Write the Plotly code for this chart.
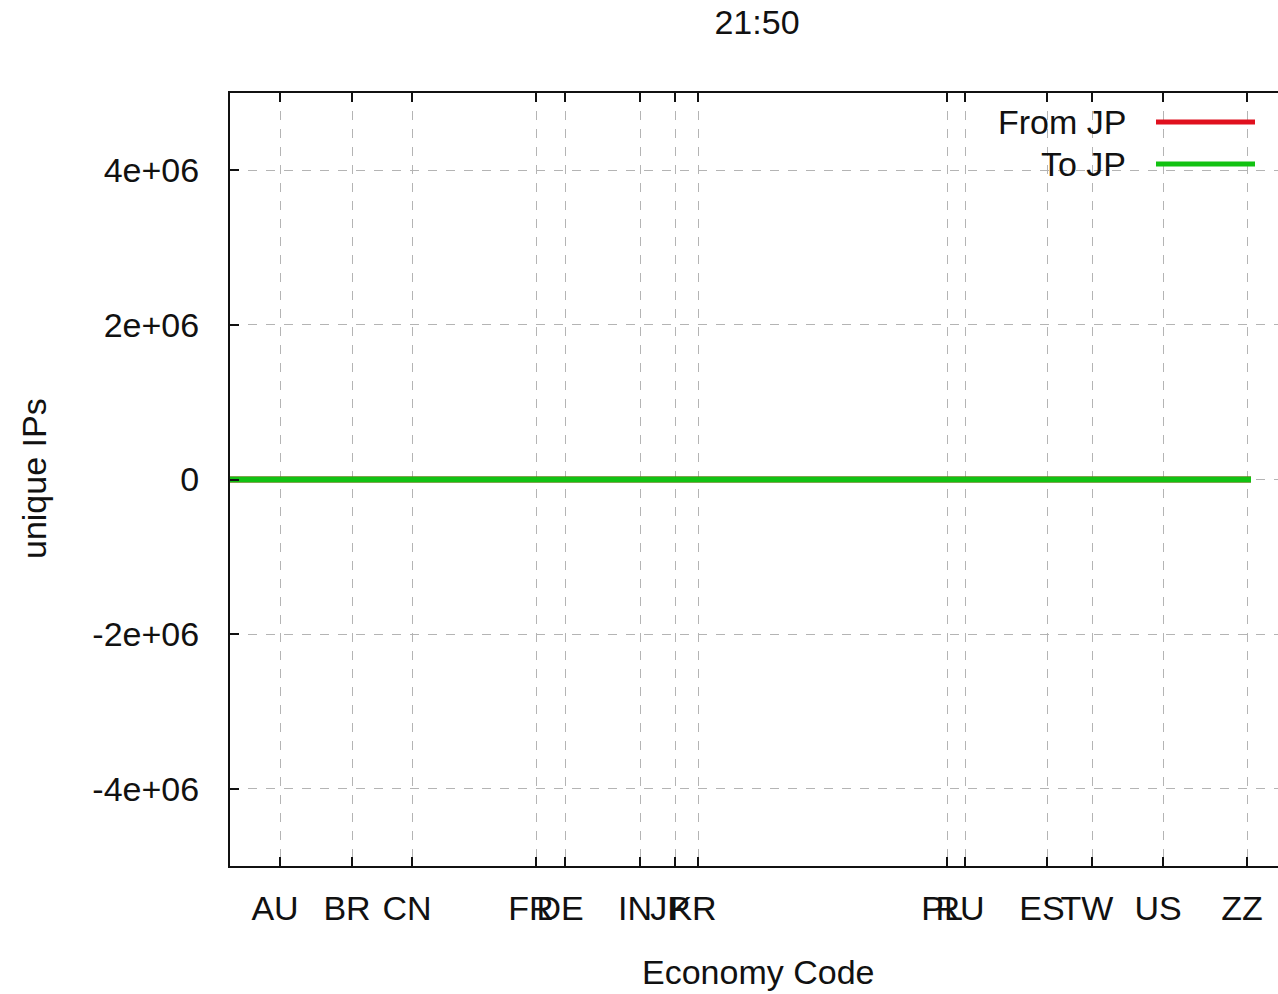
import plotly.graph_objects as go

# Data
economies = ["AU", "BR", "CN", "FR", "DE", "IN", "JP", "KR", "PL", "RU", "ES", "TW", "US", "ZZ"]
econ_pos = [50, 122, 182, 306, 335, 410, 445, 468, 717, 735, 817, 862, 933, 1017]
line_x = [0] + econ_pos + [1021]
from_jp = [0] * len(line_x)
to_jp = [0] * len(line_x)
y_ticks = [-4e6, -2e6, 0, 2e6, 4e6]
y_tick_labels = ["-4e+06", "-2e+06", "0", "2e+06", "4e+06"]

RED = "#e0101e"
GREEN = "#12c212"
FONT = "Liberation Sans, Arial, sans-serif"
FS = 34

fig = go.Figure()
fig.add_trace(go.Scatter(x=line_x, y=from_jp, mode="lines", name="From JP",
                         line=dict(color=RED, width=6), showlegend=False))
fig.add_trace(go.Scatter(x=line_x, y=to_jp, mode="lines", name="To JP",
                         line=dict(color=GREEN, width=6), showlegend=False))

W, H = 1278, 994
L, R, T, B = 230, 0, 93, 128

fig.update_layout(
    width=W, height=H,
    margin=dict(l=L, r=R, t=T, b=B, pad=0),
    paper_bgcolor="white", plot_bgcolor="white",
    font=dict(family=FONT, size=FS, color="#111111"),
    showlegend=False,
    title=dict(text="21:50", x=757 / W, xanchor="center", y=1 - 22 / H, yanchor="middle",
               yref="container", font=dict(size=FS, color="#111111")),
)

fig.update_xaxes(
    range=[0, W - L], tickmode="array", tickvals=econ_pos, ticktext=economies,
    ticks="inside", ticklen=9, tickwidth=2, tickcolor="#111111",
    showline=True, linecolor="#111111", linewidth=2, mirror="allticks",
    showgrid=True, gridcolor="#b4b4b4", gridwidth=1, griddash="dash",
    zeroline=False, ticklabelstandoff=11, ticklabelshift=-5, tickangle=0,
    ticklabeloverflow="allow",
)
fig.update_yaxes(
    range=[-5e6, 5e6], tickmode="array", tickvals=y_ticks, ticktext=y_tick_labels,
    ticks="inside", ticklen=9, tickwidth=2, tickcolor="#111111",
    showline=True, linecolor="#111111", linewidth=2, mirror=False,
    showgrid=True, gridcolor="#b4b4b4", gridwidth=1, griddash="dash",
    zeroline=False, ticklabelstandoff=22, ticklabeloverflow="allow",
)

pw = W - L - R
ph = H - T - B
def px(x):
    return (x - L) / pw
def py(y):
    return 1 - (y - T) / ph

# Axis titles
fig.add_annotation(text="Economy Code", xref="paper", yref="paper", x=px(758), y=py(972),
                   xanchor="center", yanchor="middle", showarrow=False)
fig.add_annotation(text="unique IPs", xref="paper", yref="paper", x=px(34), y=py(479),
                   xanchor="center", yanchor="middle", showarrow=False, textangle=-90)

# Legend (gnuplot style: text then line sample)
fig.add_shape(type="rect", xref="paper", yref="paper", x0=px(988), x1=px(1262),
              y0=py(186), y1=py(104), fillcolor="white", line=dict(width=0), layer="between")
for label, color, yy in [("From JP", RED, 122), ("To JP", GREEN, 164)]:
    fig.add_annotation(text=label, xref="paper", yref="paper", x=px(1128), y=py(yy),
                       xanchor="right", yanchor="middle", showarrow=False)
    fig.add_shape(type="line", xref="paper", yref="paper", x0=px(1156), x1=px(1255),
                  y0=py(yy), y1=py(yy), line=dict(color=color, width=5))

fig.write_html("out.html", config={"displayModeBar": False},
               post_script="document.body.style.margin='0';document.body.style.overflow='hidden';")
